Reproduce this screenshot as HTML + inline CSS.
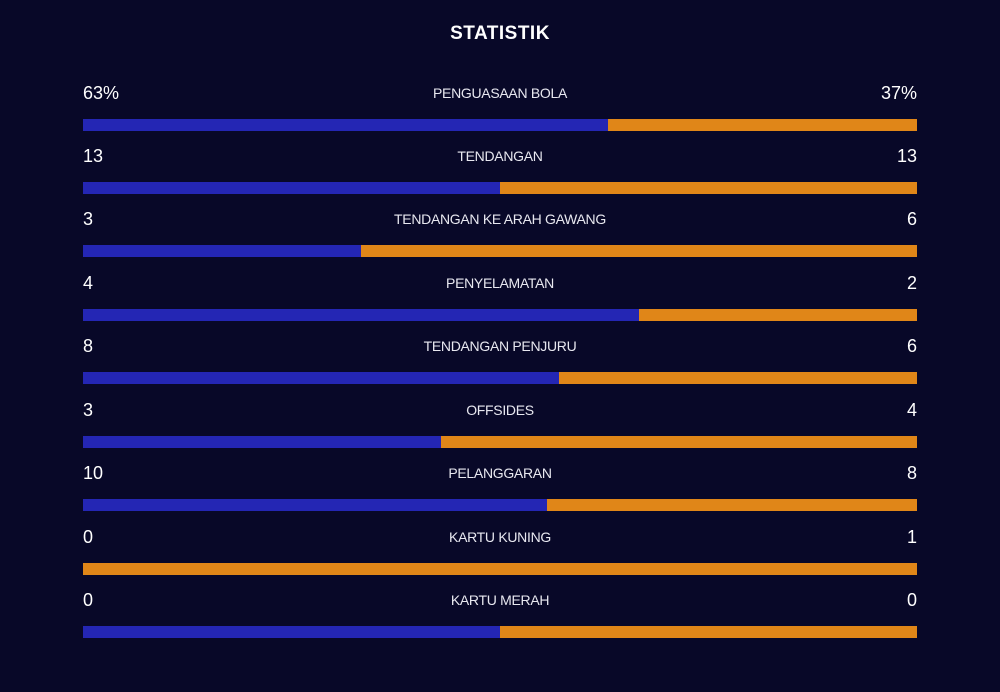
<!DOCTYPE html>
<html><head><meta charset="utf-8"><style>
body{margin:0;width:1000px;height:692px;background:#080828;font-family:"Liberation Sans",sans-serif;color:#fff;position:relative;overflow:hidden}
h1{position:absolute;top:23px;left:0;width:1000px;text-align:center;font-size:19px;font-weight:bold;margin:0;letter-spacing:0.5px}
.l,.r,.c{position:absolute;line-height:20px}
.l{left:83px;font-size:18px}
.r{right:83px;font-size:18px;text-align:right}
.c{left:0;width:1000px;text-align:center;font-size:14px;color:#e8e8f0;letter-spacing:-0.3px}
.b{position:absolute;left:83px;width:834px;height:12px;background:#e08618}
.b i{position:absolute;left:0;top:0;height:12px;background:#2426b4}
</style></head><body>
<h1>STATISTIK</h1>
<div class="l" style="top:83px">63%</div><div class="c" style="top:83px">PENGUASAAN BOLA</div><div class="r" style="top:83px">37%</div>
<div class="b" style="top:119px"><i style="width:525px"></i></div>
<div class="l" style="top:146px">13</div><div class="c" style="top:146px">TENDANGAN</div><div class="r" style="top:146px">13</div>
<div class="b" style="top:182px"><i style="width:417px"></i></div>
<div class="l" style="top:209px">3</div><div class="c" style="top:209px">TENDANGAN KE ARAH GAWANG</div><div class="r" style="top:209px">6</div>
<div class="b" style="top:245px"><i style="width:278px"></i></div>
<div class="l" style="top:273px">4</div><div class="c" style="top:273px">PENYELAMATAN</div><div class="r" style="top:273px">2</div>
<div class="b" style="top:309px"><i style="width:556px"></i></div>
<div class="l" style="top:336px">8</div><div class="c" style="top:336px">TENDANGAN PENJURU</div><div class="r" style="top:336px">6</div>
<div class="b" style="top:372px"><i style="width:476px"></i></div>
<div class="l" style="top:400px">3</div><div class="c" style="top:400px">OFFSIDES</div><div class="r" style="top:400px">4</div>
<div class="b" style="top:436px"><i style="width:358px"></i></div>
<div class="l" style="top:463px">10</div><div class="c" style="top:463px">PELANGGARAN</div><div class="r" style="top:463px">8</div>
<div class="b" style="top:499px"><i style="width:464px"></i></div>
<div class="l" style="top:527px">0</div><div class="c" style="top:527px">KARTU KUNING</div><div class="r" style="top:527px">1</div>
<div class="b" style="top:563px"></div>
<div class="l" style="top:590px">0</div><div class="c" style="top:590px">KARTU MERAH</div><div class="r" style="top:590px">0</div>
<div class="b" style="top:626px"><i style="width:417px"></i></div>
</body></html>
